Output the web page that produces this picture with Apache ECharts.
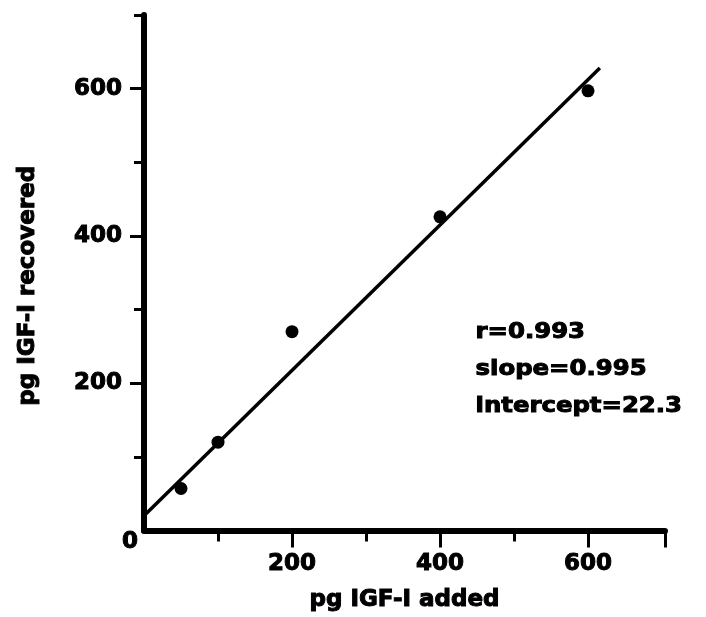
<!DOCTYPE html>
<html>
<head>
<meta charset="utf-8">
<script src="https://cdn.jsdelivr.net/npm/echarts@6/dist/echarts.min.js"></script>
<style>
  html, body { margin: 0; padding: 0; background: #fff; }
  #container { width: 706px; height: 617px; }
</style>
</head>
<body>
<div id="container"></div>
<script>
// 数据：加入量 vs 回收量
var added = [50, 100, 200, 400, 600];
var recovered = [57, 120, 270, 426, 597];
// 回归直线两端
var fitX = [0, 616];
var fitY = [20, 628];
var majorTicks = [200, 400, 600];
var minorTicksX = [100, 300, 500];
var minorTicksY = [100, 300, 500, 700];
var statsText = ['r=0.993', 'slope=0.995', 'intercept=22.3'];

var font = 'DejaVu Sans';
// 粗黑字体：加一点描边
var heavy = { color: '#000', fontFamily: font, fontWeight: 'bold', fontSize: 23, textBorderColor: '#000', textBorderWidth: 1 };
var dom = document.getElementById('container');
var myChart = echarts.init(dom);

var points = [];
for (var i = 0; i < added.length; i++) points.push([added[i], recovered[i]]);
var fit = [];
for (var j = 0; j < fitX.length; j++) fit.push([fitX[j], fitY[j]]);

myChart.setOption({
  animation: false,
  backgroundColor: '#fff',
  grid: { left: 144, right: 41, top: 15, bottom: 84.5 },
  xAxis: [{
    type: 'value', min: 0, max: 704, position: 'bottom',
    splitLine: { show: false },
    axisLine: { lineStyle: { color: '#000', width: 6 } },
    axisTick: { customValues: majorTicks.concat([704]), length: 17, lineStyle: { color: '#000', width: 3 } },
    axisLabel: Object.assign({ customValues: majorTicks, margin: 22 }, heavy),
    name: 'pg IGF-I added', nameLocation: 'middle', nameGap: 58,
    nameTextStyle: heavy
  }, {
    type: 'value', min: 0, max: 704, position: 'bottom',
    splitLine: { show: false },
    axisLine: { show: false },
    axisTick: { customValues: minorTicksX, length: 11, lineStyle: { color: '#000', width: 3 } },
    axisLabel: { show: false }
  }],
  yAxis: [{
    type: 'value', min: 0, max: 700, position: 'left',
    splitLine: { show: false },
    axisLine: { lineStyle: { color: '#000', width: 6 } },
    axisTick: { customValues: majorTicks, length: 14, lineStyle: { color: '#000', width: 3 } },
    axisLabel: Object.assign({ customValues: majorTicks, margin: 22 }, heavy),
    name: 'pg IGF-I recovered', nameLocation: 'middle', nameGap: 104, nameRotate: 90,
    nameTextStyle: Object.assign({ padding: [0, 26, 0, 0] }, heavy)
  }, {
    type: 'value', min: 0, max: 700, position: 'left',
    splitLine: { show: false },
    axisLine: { show: false },
    axisTick: { customValues: minorTicksY, length: 10, lineStyle: { color: '#000', width: 3 } },
    axisLabel: Object.assign({ customValues: [0], margin: 6, verticalAlign: 'top' }, heavy)
  }],
  graphic: statsText.map(function (t, k) {
    return {
      type: 'text', left: 475, top: 322 + k * 37, scaleX: 1.16,
      style: { text: t, fill: '#000', stroke: '#000', lineWidth: 1, font: 'bold 21px "DejaVu Sans"' }
    };
  }),
  series: [{
    type: 'line',
    data: fit,
    showSymbol: false,
    lineStyle: { color: '#000', width: 3.5 },
    silent: true
  }, {
    type: 'scatter',
    data: points,
    symbolSize: 13,
    itemStyle: { color: '#000', opacity: 1 }
  }]
});
</script>
</body>
</html>
